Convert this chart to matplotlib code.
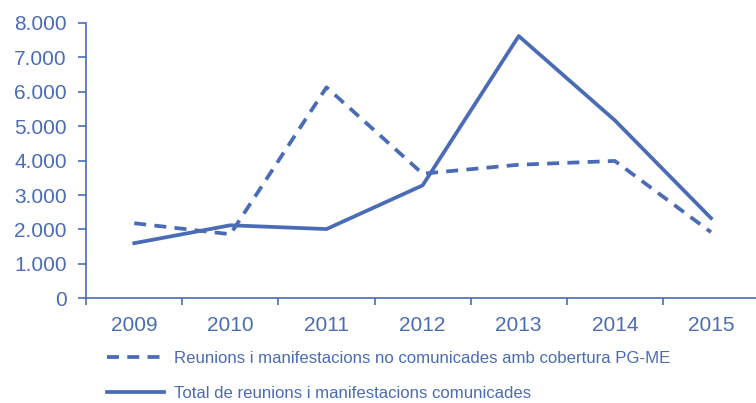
import matplotlib.pyplot as plt
from matplotlib.ticker import FuncFormatter

plt.rcParams['font.family'] = ['Liberation Sans', 'DejaVu Sans']

# data
years = ['2009', '2010', '2011', '2012', '2013', '2014', '2015']
no_comunicades = [2180, 1860, 6130, 3620, 3880, 3990, 1920]
comunicades = [1600, 2120, 2010, 3280, 7620, 5170, 2330]

blue = '#4A6CB6'

fig = plt.figure(figsize=(7.56, 4.03), dpi=100)
ax = fig.add_axes([0.114, 0.26, 0.89, 0.683])

x = range(len(years))
ax.plot(x, no_comunicades, color=blue, lw=2.7, linestyle=(0, (3.2, 2.2)),
        label='Reunions i manifestacions no comunicades amb cobertura PG-ME')
ax.plot(x, comunicades, color=blue, lw=2.7,
        label='Total de reunions i manifestacions comunicades')

ax.set_xlim(-0.5, 6.5)
ax.set_ylim(0, 8000)
ax.set_yticks(range(0, 8001, 1000))
ax.yaxis.set_major_formatter(FuncFormatter(lambda v, p: f'{int(v):,}'.replace(',', '.')))
ax.set_xticks([i - 0.5 for i in range(8)])
ax.set_xticklabels([])
ax.set_xticks(list(x), minor=True)
ax.set_xticklabels(years, minor=True)
ax.tick_params(axis='x', which='minor', length=0, pad=13, labelsize=15, labelcolor=blue)
ax.tick_params(axis='x', which='major', length=5, color=blue, width=1.2)
ax.tick_params(axis='y', length=6, color=blue, width=1.2, labelsize=15, labelcolor=blue, pad=8)

for s in ['top', 'right']:
    ax.spines[s].set_visible(False)
for s in ['left', 'bottom']:
    ax.spines[s].set_color(blue)
    ax.spines[s].set_linewidth(1.2)

ax.legend(loc='upper left', bbox_to_anchor=(0.13, 0.15), bbox_transform=fig.transFigure,
          frameon=False, fontsize=12.1, labelcolor=blue, handlelength=3.4,
          handletextpad=0.6, labelspacing=1.2, borderpad=0)

plt.savefig('out.png', dpi=100)
